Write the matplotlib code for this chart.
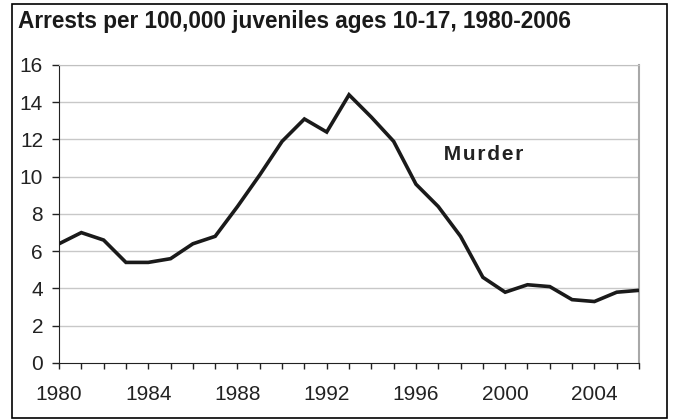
import matplotlib.pyplot as plt
from matplotlib.patches import Rectangle

years = list(range(1980, 2007))
murder = [6.4, 7.0, 6.6, 5.4, 5.4, 5.6, 6.4, 6.8, 8.4, 10.1, 11.9, 13.1, 12.4,
          14.4, 13.2, 11.9, 9.6, 8.4, 6.8, 4.6, 3.8, 4.2, 4.1, 3.4, 3.3, 3.8, 3.9]
x_labels = [1980, 1984, 1988, 1992, 1996, 2000, 2004]
y_ticks = [0, 2, 4, 6, 8, 10, 12, 14, 16]

plt.rcParams['font.family'] = ['Liberation Sans', 'DejaVu Sans']

fig = plt.figure(figsize=(6.76, 4.19), dpi=100)
ax = fig.add_axes([0.0873, 0.1337, 0.858, 0.7112])

# light horizontal gridlines
for y in y_ticks[1:]:
    ax.axhline(y, color='#c8c8c8', lw=1.0, zorder=1)

ax.plot(years, murder, color='#1a1a1a', lw=2.6, solid_joinstyle='miter', zorder=3)

ax.set_xlim(1980, 2006)
ax.set_ylim(0, 16)
ax.set_xticks(years, minor=True)
ax.set_xticks(x_labels)
ax.set_yticks(y_ticks)
ax.tick_params(axis='both', which='both', direction='out', width=1, color='#222222',
               labelsize=15, labelcolor='#222222')
ax.tick_params(axis='x', which='both', length=4, pad=12)
ax.tick_params(axis='y', length=5, pad=6.5)

ax.spines['left'].set_color('#222222')
ax.spines['bottom'].set_color('#222222')
ax.spines['top'].set_color('#c0c0c0')
ax.spines['right'].set_color('#a8a8a8')
ax.spines['right'].set_linewidth(1.5)

ax.text(1999.0, 11.17, '\u200aM\u200au\u200ar\u200ad\u200ae\u200ar', fontsize=15, fontweight='bold',
        color='#222222', ha='center', va='center')

fig.text(18 / 676, 0.933, 'Arrests per 100,000 juveniles ages 10-17, 1980-2006',
         fontsize=16.3, fontweight='bold', color='#1a1a1a', ha='left', va='baseline')

fig.patches.append(Rectangle((0.0173, 0.0024), 0.9694, 0.988, transform=fig.transFigure,
                             fill=False, edgecolor='black', lw=1.2))

fig.savefig('out.png', dpi=100)
